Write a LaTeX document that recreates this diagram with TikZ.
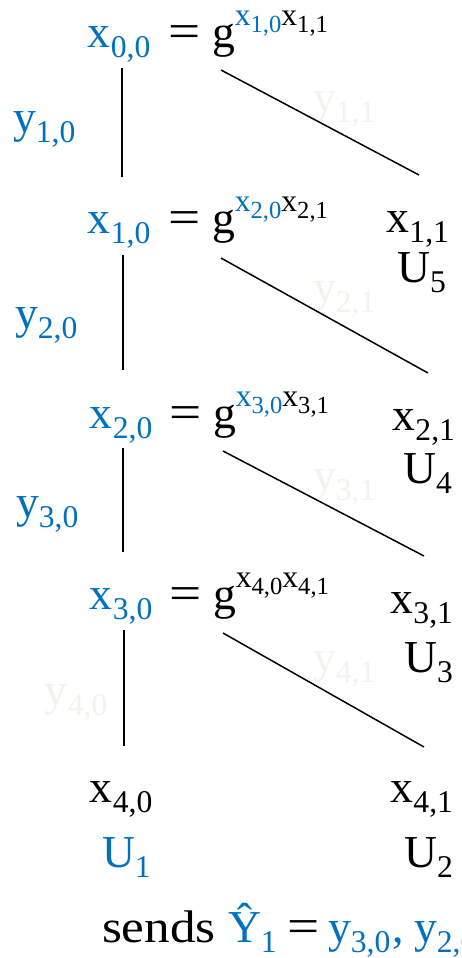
\documentclass[tikz,border=0pt]{standalone}
\usepackage{fontspec}
\setmainfont{Liberation Serif}
\definecolor{myblue}{RGB}{0,112,192}
\definecolor{faint}{RGB}{243,243,235}
\newcommand{\xsb}[2]{#1\raisebox{-6pt}{\fontsize{18}{18}\selectfont #2}}
\newcommand{\supx}[2]{\raisebox{12.5pt}{\fontsize{18}{18}\selectfont x\raisebox{-4pt}{\fontsize{14}{14}\selectfont #1}}}
\newcommand{\wideeq}{\scalebox{1.25}[1.05]{=}}
\begin{document}
\begin{tikzpicture}[x=0.02cm,y=-0.02cm,
  txt/.style={inner sep=0pt,outer sep=0pt,font=\fontsize{26}{30}\selectfont},
  lw/.style={anchor=base west},
  le/.style={anchor=base east},
  ln/.style={line width=0.85pt,black}]
\useasboundingbox (0,0) rectangle (461,958);
% row 0
\node[txt,lw,myblue] (x00) at (88,47) {\xsb{x}{0,0}};
\node[txt,lw] (eq0) at (168,47) {\wideeq};
\node[txt,lw] (g0) at (212,47) {g\textcolor{myblue}{\supx{1,0}{}}\supx{1,1}{}};
\node[txt,lw,myblue] (y10) at (13,132) {\xsb{y}{1,0}};
\node[txt,lw,faint] (y11) at (313,112) {\xsb{y}{1,1}};
% row 1
\node[txt,lw,myblue] (x10) at (88,233) {\xsb{x}{1,0}};
\node[txt,lw] (eq1) at (168,233) {\wideeq};
\node[txt,lw] (g1) at (212,233) {g\textcolor{myblue}{\supx{2,0}{}}\supx{2,1}{}};
\node[txt,le] (x11) at (449,232) {\xsb{x}{1,1}};
\node[txt,le] (u5) at (446,282) {\xsb{U}{5}};
\node[txt,lw,myblue] (y20) at (15,328) {\xsb{y}{2,0}};
\node[txt,lw,faint] (y21) at (313,302) {\xsb{y}{2,1}};
% row 2
\node[txt,lw,myblue] (x20) at (90,428) {\xsb{x}{2,0}};
\node[txt,lw] (eq2) at (169,428) {\wideeq};
\node[txt,lw] (g2) at (213,428) {g\textcolor{myblue}{\supx{3,0}{}}\supx{3,1}{}};
\node[txt,le] (x21) at (455,430) {\xsb{x}{2,1}};
\node[txt,le] (u4) at (452,483) {\xsb{U}{4}};
\node[txt,lw,myblue] (y30) at (16,517) {\xsb{y}{3,0}};
\node[txt,lw,faint] (y31) at (313,490) {\xsb{y}{3,1}};
% row 3
\node[txt,lw,myblue] (x30) at (90,609) {\xsb{x}{3,0}};
\node[txt,lw] (eq3) at (169,609) {\wideeq};
\node[txt,lw] (g3) at (213,609) {g\supx{4,0}{}\supx{4,1}{}};
\node[txt,le] (x31) at (453,613) {\xsb{x}{3,1}};
\node[txt,le] (u3) at (453,672) {\xsb{U}{3}};
\node[txt,lw,faint] (y40) at (45,705) {\xsb{y}{4,0}};
\node[txt,lw,faint] (y41) at (313,672) {\xsb{y}{4,1}};
% row 4
\node[txt,lw] (x40) at (90,802) {\xsb{x}{4,0}};
\node[txt,le] (x41) at (453,802) {\xsb{x}{4,1}};
\node[txt,lw,myblue] (u1) at (102,867) {\xsb{U}{1}};
\node[txt,le] (u2) at (453,867) {\xsb{U}{2}};
% bottom line (cut off at the right edge, as in the reference)
\node[txt,lw] (sends) at (102,942) {\scalebox{1.12}[1]{sends}};
\node[txt,lw,myblue] (yhat) at (228,942) {\xsb{Ŷ}{1}};
\node[txt,lw] (eqb) at (287,942) {\wideeq};
\node[txt,lw,myblue] (ylist) at (328,942) {\xsb{y}{3,0}\hspace{1pt},\hspace{6pt}\xsb{y}{2,0}};
% connector ends
\coordinate (a0) at (122,68);  \coordinate (b0) at (122,177);
\coordinate (a1) at (123,255); \coordinate (b1) at (123,370);
\coordinate (a2) at (123,448); \coordinate (b2) at (123,552);
\coordinate (a3) at (124,630); \coordinate (b3) at (124,746);
\coordinate (c0) at (221,70);  \coordinate (d0) at (419,175);
\coordinate (c1) at (221,258); \coordinate (d1) at (428,373);
\coordinate (c2) at (223,451); \coordinate (d2) at (424,556);
\coordinate (c3) at (223,633); \coordinate (d3) at (424,747);
\foreach \i in {0,1,2,3}{
  \draw[ln] (a\i) -- (b\i);
  \draw[ln] (c\i) -- (d\i);
}
\end{tikzpicture}
\end{document}
